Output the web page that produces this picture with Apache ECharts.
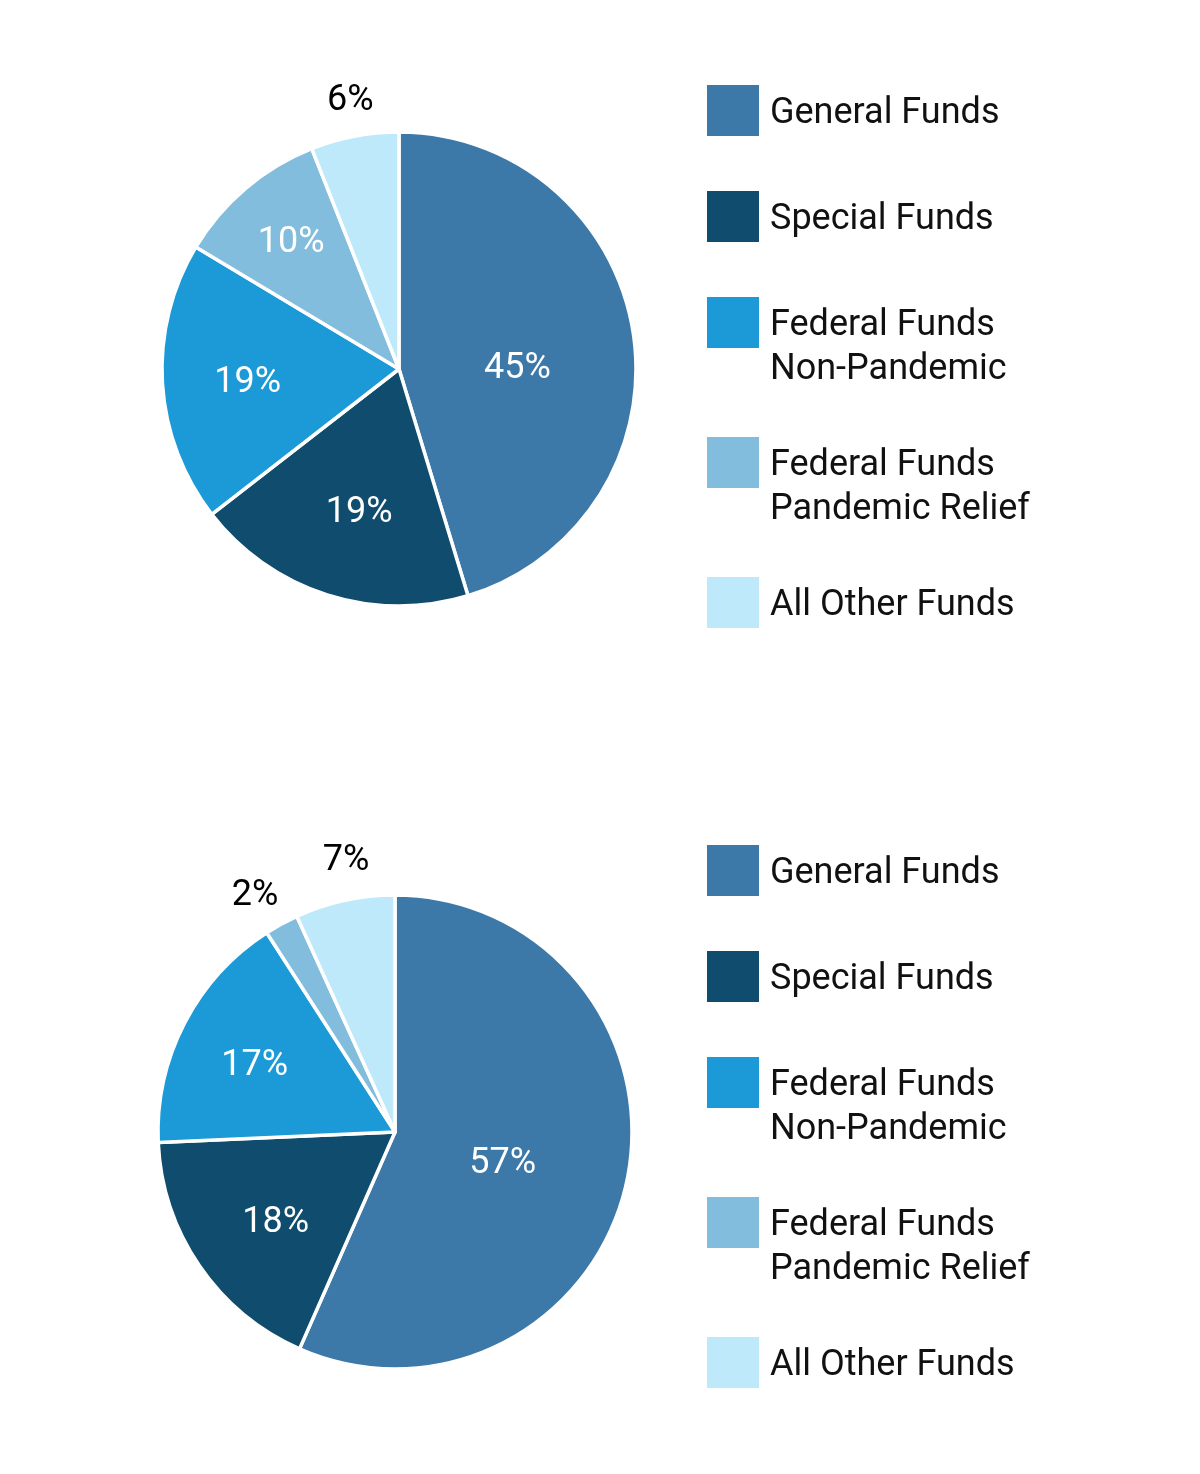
<!DOCTYPE html>
<html>
<head>
<meta charset="utf-8">
<title>Funds</title>
<script src="https://cdn.jsdelivr.net/npm/echarts@6/dist/echarts.min.js"></script>
<style>
html, body { margin: 0; padding: 0; background: #fff; }
#chart { width: 1200px; height: 1474px; }
</style>
</head>
<body>
<div id="chart"></div>
<script>
// data (shares in %)
var categories = ['General Funds', 'Special Funds', 'Federal Funds\nNon-Pandemic', 'Federal Funds\nPandemic Relief', 'All Other Funds'];
var topValues = [45.3, 19.2, 19.1, 10.4, 6.0];
var bottomValues = [56.6, 17.7, 16.6, 2.3, 6.8];

var colors = ['#3c78a8', '#0f4c6e', '#1b9ad7', '#82bddd', '#bde9fb'];
// where each % label sits: share of the radius (>1 = outside, black) and a small turn in degrees
var topLabelPos = [0.50, 0.62, 0.64, 0.71, 1.16];
var topLabelTurn = [6.8, -1.9, -0.8, 0.5, 0.6];
var bottomLabelPos = [0.47, 0.625, 0.66, 1.17, 1.175];
var bottomLabelTurn = [3.1, -2, -1.2, -1.7, 2.1];

var FONT = 'Roboto';
var R = 237;
var LINE = 44;

var chart = echarts.init(document.getElementById('chart'));

function makePie(values, center, labelPos, labelTurn) {
	return {
		type: 'pie',
		center: center,
		radius: R,
		startAngle: 90,
		clockwise: true,
		animation: false,
		avoidLabelOverlap: false,
		silent: true,
		itemStyle: { borderColor: '#fff', borderWidth: 3.5 },
		label: {
			show: true,
			position: 'inside',
			fontFamily: FONT,
			fontSize: 36,
			textBorderWidth: 0,
			formatter: function (p) { return Math.round(p.percent) + '%'; }
		},
		labelLine: { show: false },
		emphasis: { disabled: true },
		labelLayout: function (p) {
			var i = p.dataIndex;
			var lx = p.labelRect.x + p.labelRect.width / 2;
			var ly = p.labelRect.y + p.labelRect.height / 2;
			//inside labels start on the mid angle, turn and push them from there
			var a = Math.atan2(lx - center[0], center[1] - ly) + labelTurn[i] * Math.PI / 180;
			var r = labelPos[i] * R;
			return {
				dx: center[0] + r * Math.sin(a) - lx,
				dy: center[1] - r * Math.cos(a) - ly + 3
			};
		},
		data: categories.map(function (n, i) {
			return {
				name: n,
				value: values[i],
				itemStyle: { color: colors[i] },
				label: { color: labelPos[i] > 1 ? '#000' : '#fff' }
			};
		})
	};
}

// one legend per item so the swatch lines up with the first text line
var legendStarts = [85, 845];
var legends = [];
legendStarts.forEach(function (start) {
	var y = start;
	categories.forEach(function (name) {
		var parts = name.split('\n');
		var lead = 7 + (parts.length - 1) * LINE;
		var blockH = lead + parts.length * LINE;
		var off = Math.max(0, blockH / 2 - 51 / 2);
		legends.push({
			orient: 'vertical',
			left: 707,
			top: y - off,
			padding: 0,
			icon: 'rect',
			itemWidth: 52,
			itemHeight: 51,
			itemGap: 0,
			selectedMode: false,
			itemStyle: { borderWidth: 0 },
			formatter: function () {
				return '{b| }\n' + parts.map(function (s) { return '{t|' + s + '}'; }).join('\n');
			},
			textStyle: {
				fontFamily: FONT,
				fontSize: 36,
				color: '#111',
				rich: {
					b: { fontSize: 2, lineHeight: lead, height: lead },
					t: { fontFamily: FONT, fontSize: 36, color: '#111', lineHeight: LINE, padding: [0, 0, 0, 6] }
				}
			},
			data: [name]
		});
		y += parts.length > 1 ? 140 : 106;
	});
});

chart.setOption({
	backgroundColor: '#fff',
	animation: false,
	legend: legends,
	series: [
		makePie(topValues, [399, 369], topLabelPos, topLabelTurn),
		makePie(bottomValues, [395, 1132], bottomLabelPos, bottomLabelTurn)
	]
});
</script>
</body>
</html>
